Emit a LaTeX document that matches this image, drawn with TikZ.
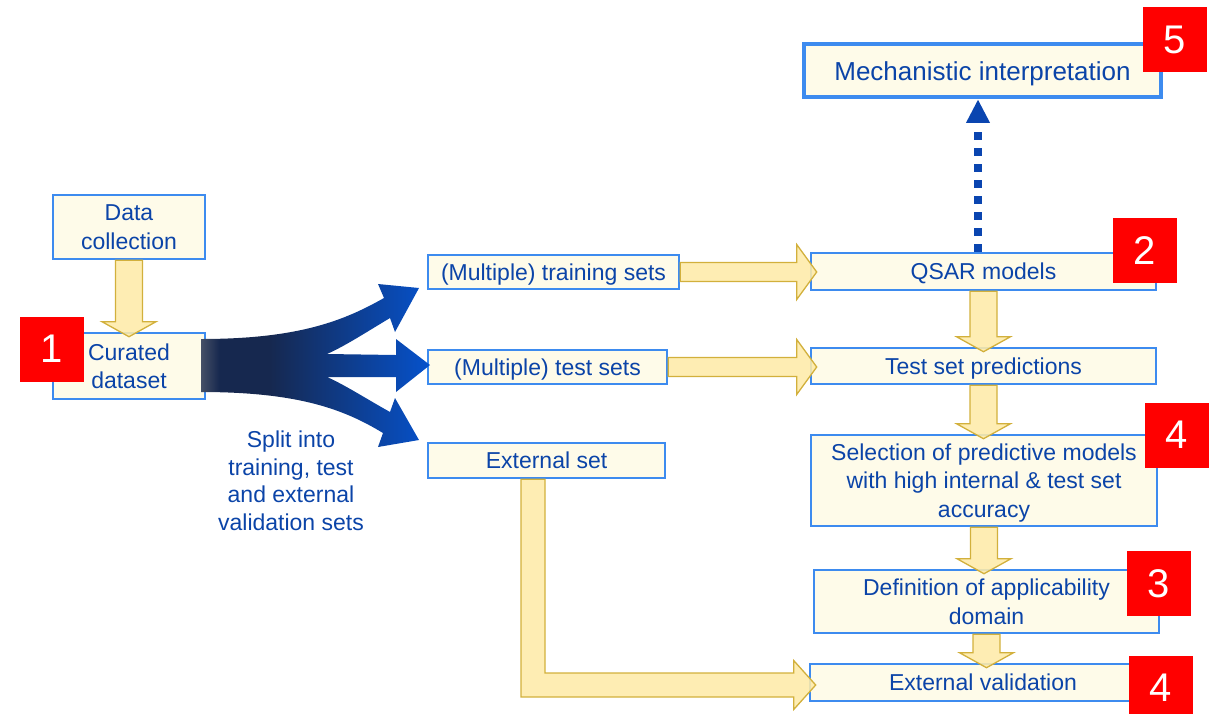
\documentclass[tikz,border=0pt]{standalone}
\usepackage{fontspec}
\setmainfont{Liberation Sans}
\usetikzlibrary{calc}
\definecolor{txt}{HTML}{0B44A8}
\definecolor{bord}{HTML}{3D8BEF}
\definecolor{boxfill}{HTML}{FEFBE9}
\definecolor{yfill}{HTML}{FEEBA8}
\definecolor{ydraw}{HTML}{D2B03C}
\definecolor{redsq}{HTML}{FF0000}
\definecolor{dotblue}{HTML}{0A45B0}
\definecolor{fanA}{HTML}{465066}
\definecolor{fanB}{HTML}{16284F}
\definecolor{fanC}{HTML}{0652CC}
\pgfdeclarehorizontalshading{fanshade}{100bp}{color(0bp)=(fanA); color(25bp)=(fanA); color(29bp)=(fanB); color(40bp)=(fanB); color(75bp)=(fanC); color(100bp)=(fanC)}
\tikzset{
  box/.style={draw=bord, fill=boxfill, line width=2.6pt, text=txt, font=\fontsize{23}{28.5}\selectfont, align=center, inner sep=0pt, text depth=0pt},
  onel/.style={text height=16.5pt, text depth=0pt},
  plain/.style={text=txt, font=\fontsize{23}{27.5}\selectfont, align=center, inner sep=0pt},
  numsq/.style={fill=redsq, text=white, font=\fontsize{40}{40}\selectfont, minimum width=64pt, minimum height=65pt, inner sep=0pt},
  yarrow/.style={fill=yfill, draw=ydraw, line width=1.3pt, fill opacity=0.88, line join=miter},
  dotline/.style={draw=dotblue, line width=8pt, dash pattern=on 8pt off 8pt},
}
\newcommand\vya[2]{%
  \draw[yarrow] let \p1=(#1.south), \p2=(#2.north) in
    (\x1-13.5pt,\y1) -- (\x1-13.5pt,\y2+10pt) -- (\x1-27pt,\y2+10pt) -- (\x1,\y2-5pt)
    -- (\x1+27pt,\y2+10pt) -- (\x1+13.5pt,\y2+10pt) -- (\x1+13.5pt,\y1) -- cycle;}
\newcommand\hya[2]{%
  \draw[yarrow] let \p1=(#1.east), \p2=(#2.west) in
    (\x1,\y1+9.5pt) -- (\x2-13pt,\y1+9.5pt) -- (\x2-13pt,\y1+27.5pt) -- (\x2+7pt,\y1)
    -- (\x2-13pt,\y1-27.5pt) -- (\x2-13pt,\y1-9.5pt) -- (\x1,\y1-9.5pt) -- cycle;}
\begin{document}
\begin{tikzpicture}[x=1pt,y=-1pt]
\useasboundingbox (0,0) rectangle (1210,713);
\clip (0,0) rectangle (1210,713);

% boxes
\node[box, minimum width=152pt, minimum height=64pt] (data) at (129,227) {Data\\collection};
\node[box, minimum width=152pt, minimum height=66pt] (cur) at (129,366) {Curated\\dataset};
\node[box, onel, minimum width=251pt, minimum height=34pt] (train) at (553.5,272) {(Multiple) training sets};
\node[box, onel, minimum width=239pt, minimum height=34pt] (test) at (547.5,367) {(Multiple) test sets};
\node[box, onel, minimum width=237pt, minimum height=35pt] (ext) at (546.5,460.5) {External set};
\node[box, onel, minimum width=345pt, minimum height=37pt] (qsar) at (983.5,271.5) {QSAR models};
\node[box, onel, minimum width=345pt, minimum height=36pt] (pred) at (983.5,366) {Test set predictions};
\node[box, minimum width=346pt, minimum height=91pt] (sel) at (984,480.5) {Selection of predictive models\\with high internal \& test set\\accuracy};
\node[box, minimum width=345pt, minimum height=63pt] (def) at (986.5,601.5) {Definition of applicability\\domain};
\node[box, onel, minimum width=346pt, minimum height=37pt] (extval) at (983,682.5) {External validation};
\node[box, line width=3.6pt, minimum width=357pt, minimum height=53pt, font=\fontsize{26}{30}\selectfont, text height=19pt] (mech) at (982.5,70.5) {Mechanistic interpretation};

\node[plain] (split) at (291,481) {Split into\\training, test\\and external\\validation sets};

% blue fan arrow
\shade[shading=fanshade] (201,339) .. controls (300,339) and (345,320) .. (384,298) -- (378,284) -- (419,288) -- (395,332) -- (390,318)
  .. controls (365,333) and (345,346) .. (327,354) -- (396,355) -- (396,339) -- (430,365) -- (396,392) -- (396,377) -- (327,377)
  .. controls (345,385) and (365,398) .. (390,412) -- (395,398) -- (419,440) -- (378,447) -- (383,433)
  .. controls (345,410) and (300,392) .. (201,392) -- cycle;

% yellow arrows
\vya{data}{cur}
\hya{train}{qsar}
\hya{test}{pred}
\vya{qsar}{pred}
\vya{pred}{sel}
\vya{sel}{def}
\vya{def}{extval}
\draw[yarrow] let \p1=($(ext.south)+(-13.5,0)$), \p2=(extval.west) in
  (\x1-12pt,\y1) -- (\x1-12pt,\y2-14.5pt) -- (\x2-15pt,\y2-14.5pt) -- (\x2-15pt,\y2-27pt) -- (\x2+7pt,\y2-2.5pt)
  -- (\x2-15pt,\y2+22pt) -- (\x2-15pt,\y2+9.5pt) -- (\x1+12pt,\y2+9.5pt) -- (\x1+12pt,\y1) -- cycle;

% dotted arrow
\coordinate (dA) at ($(qsar.north)+(-5.5,0)$);
\coordinate (dB) at ($(mech.south)+(-4.5,1)$);
\draw[dotline] (dA) -- ($(dB)+(0,29)$);
\fill[dotblue] (dB) -- ($(dB)+(-12,23)$) -- ($(dB)+(12,23)$) -- cycle;

% red number squares
\node[numsq] (n1) at (51.5,349) {1};
\node[numsq] (n2) at (1144.5,250.5) {2};
\node[numsq] (n4a) at (1176.5,435) {4};
\node[numsq] (n3) at (1159,583.5) {3};
\node[numsq] (n4b) at (1160.5,688) {4};
\node[numsq] (n5) at (1174.5,39.5) {5};
\end{tikzpicture}
\end{document}
